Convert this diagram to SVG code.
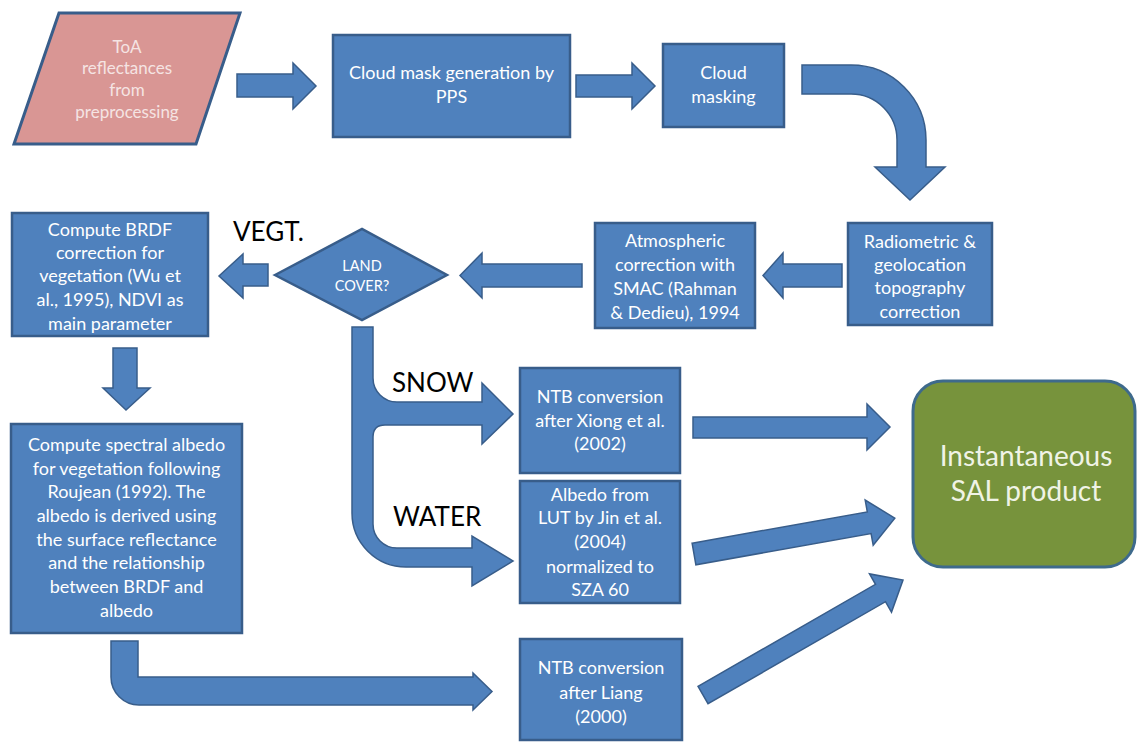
<svg xmlns="http://www.w3.org/2000/svg" width="1137" height="744" viewBox="0 0 1137 744">
<style>
  .box{fill:#4F81BD;stroke:#385D8A;stroke-width:2.5}
  .arr{fill:#4F81BD;stroke:#385D8A;stroke-width:1.5;stroke-linejoin:miter}
  .t{font-family:Lato,"Open Sans","Liberation Sans",sans-serif;font-size:18px;fill:#FFFFFF;text-anchor:middle}
  .lbl{font-family:Lato,"Open Sans","Liberation Sans",sans-serif;font-size:26px;fill:#000000}
</style>
<rect width="1137" height="744" fill="#FFFFFF"/>
<g id="connectors">
  <polygon class="arr" points="237,74 293,74 293,63 316,86 293,109 293,97 237,97"/>
  <polygon class="arr" points="576,75 632,75 632,63 655,86 632,109 632,97 576,97"/>
  <path class="arr" d="M802,65 L851,65 A75,75 0 0 1 926,140 L926,167 L945,167 L910,200 L875,167 L897,167 L897,140 A46,46 0 0 0 851,94 L802,94 Z"/>
  <polygon class="arr" points="842,264 783,264 783,253 763,275.5 783,298 783,287 842,287"/>
  <polygon class="arr" points="582,264 482,264 482,253 460,275.5 482,298 482,287 582,287"/>
  <polygon class="arr" points="268,264 243,264 243,254 219,276 243,298 243,286 268,286"/>
  <polygon class="arr" points="113,348 137,348 137,388 150,388 126,410 103,388 113,388"/>
  <path class="arr" d="M352,327 L373,327 L373,378 A24,24 0 0 0 397,402 L482,402 L482,383 L513,414 L482,444 L482,425 L385,425 Q373,425 373,437 L373,524 A24,24 0 0 0 397,548 L472,548 L472,536 L513,561 L472,586 L472,567 L406,567 A54,54 0 0 1 352,513 Z"/>
  <path class="arr" d="M111,641 L138,641 L138,677 L473,677 L473,673 L492,691.5 L473,710 L473,705 L139,705 A28,28 0 0 1 111,677 Z"/>
  <polygon class="arr" points="693,417 867,417 867,404 890,427 867,450 867,438 693,438"/>
  <polygon class="arr" points="692.1,543.2 867.3,511.9 865.2,500.1 894.8,518.1 873.2,545.3 871.1,533.5 695.9,564.8"/>
  <polygon class="arr" points="698,686.3 875.5,584.3 869.5,573.9 903,580 891.5,612.1 885.5,601.7 708,703.7"/>
</g>
<g id="toa">
  <polygon points="59,13 240,13 196,144 14,144" fill="#D99694" stroke="#385D8A" stroke-width="3"/>
  <text class="t" style="font-size:17px;fill:#F5E4E3" x="127" y="53">ToA</text>
  <text class="t" style="font-size:17px;fill:#F5E4E3" x="127" y="74">reflectances</text>
  <text class="t" style="font-size:17px;fill:#F5E4E3" x="127" y="96">from</text>
  <text class="t" style="font-size:17px;fill:#F5E4E3" x="127" y="118">preprocessing</text>
</g>
<g id="cloudmaskgen">
  <rect class="box" x="333" y="35" width="237" height="102"/>
  <text class="t" x="451.5" y="79">Cloud mask generation by</text>
  <text class="t" x="451.5" y="103">PPS</text>
</g>
<g id="cloudmasking">
  <rect class="box" x="663" y="44" width="121" height="83"/>
  <text class="t" x="723.5" y="79">Cloud</text>
  <text class="t" x="723.5" y="103">masking</text>
</g>
<g id="radiometric">
  <rect class="box" x="848" y="223" width="144" height="102"/>
  <text class="t" x="920" y="248">Radiometric &amp;</text>
  <text class="t" x="920" y="271">geolocation</text>
  <text class="t" x="920" y="294">topography</text>
  <text class="t" x="920" y="318">correction</text>
</g>
<g id="atmospheric">
  <rect class="box" x="595" y="223" width="160" height="105"/>
  <text class="t" x="675" y="247">Atmospheric</text>
  <text class="t" x="675" y="271">correction with</text>
  <text class="t" x="675" y="295">SMAC (Rahman</text>
  <text class="t" x="675" y="319">&amp; Dedieu), 1994</text>
</g>
<g id="landcover">
  <polygon class="box" points="275,275 362,229 447,275 362,320"/>
  <text class="t" style="font-size:14.5px" x="362" y="271">LAND</text>
  <text class="t" style="font-size:14.5px" x="362" y="291">COVER?</text>
</g>
<g id="brdf">
  <rect class="box" x="12" y="213" width="196" height="123"/>
  <text class="t" x="110" y="236">Compute BRDF</text>
  <text class="t" x="110" y="259">correction for</text>
  <text class="t" x="110" y="282">vegetation (Wu et</text>
  <text class="t" x="110" y="306">al., 1995), NDVI as</text>
  <text class="t" x="110" y="330">main parameter</text>
</g>
<g id="spectralalbedo">
  <rect class="box" x="11" y="424" width="231" height="209"/>
  <text class="t" x="126.5" y="451">Compute spectral albedo</text>
  <text class="t" x="126.5" y="475">for vegetation following</text>
  <text class="t" x="126.5" y="498">Roujean (1992). The</text>
  <text class="t" x="126.5" y="522">albedo is derived using</text>
  <text class="t" x="126.5" y="546">the surface reflectance</text>
  <text class="t" x="126.5" y="569">and the relationship</text>
  <text class="t" x="126.5" y="593">between BRDF and</text>
  <text class="t" x="126.5" y="617">albedo</text>
</g>
<g id="ntbxiong">
  <rect class="box" x="520" y="368" width="160" height="105"/>
  <text class="t" x="600" y="403">NTB conversion</text>
  <text class="t" x="600" y="427">after Xiong et al.</text>
  <text class="t" x="600" y="450">(2002)</text>
</g>
<g id="albedolut">
  <rect class="box" x="520" y="481" width="160" height="122"/>
  <text class="t" x="600" y="501">Albedo from</text>
  <text class="t" x="600" y="524">LUT by Jin et al.</text>
  <text class="t" x="600" y="548">(2004)</text>
  <text class="t" x="600" y="573">normalized to</text>
  <text class="t" x="600" y="596">SZA 60</text>
</g>
<g id="ntbliang">
  <rect class="box" x="520" y="639" width="162" height="101"/>
  <text class="t" x="601" y="674">NTB conversion</text>
  <text class="t" x="601" y="699">after Liang</text>
  <text class="t" x="601" y="723">(2000)</text>
</g>
<g id="sal">
  <rect x="913" y="381" width="222" height="186" rx="30" ry="30" fill="#77933C" stroke="#3E6A8C" stroke-width="3"/>
  <text class="t" style="font-size:28px;fill:#F0F3E6" x="1026" y="466">Instantaneous</text>
  <text class="t" style="font-size:28px;fill:#F0F3E6" x="1026" y="501">SAL product</text>
</g>
<g id="labels">
  <text class="lbl" x="233" y="241">VEGT.</text>
  <text class="lbl" x="392" y="392">SNOW</text>
  <text class="lbl" x="393" y="526">WATER</text>
</g>
</svg>
